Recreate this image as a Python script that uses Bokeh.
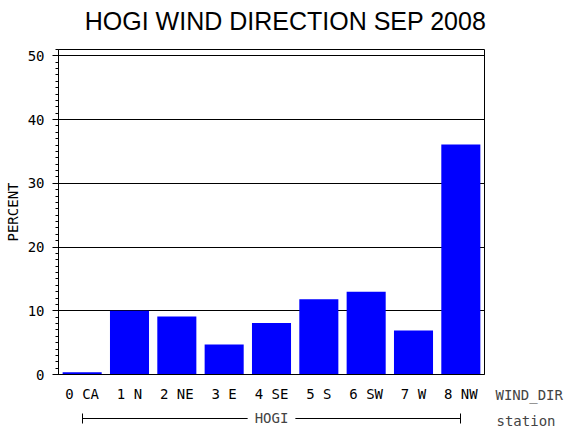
from bokeh.plotting import figure
from bokeh.models import (Range1d, FactorRange, SingleIntervalTicker, FixedTicker, Label,
                          LinearAxis, ColumnDataSource)
from bokeh.embed import file_html
from bokeh.resources import INLINE

categories = ["0 CA", "1 N", "2 NE", "3 E", "4 SE", "5 S", "6 SW", "7 W", "8 NW"]
percent = [0.35, 10.0, 9.1, 4.7, 8.1, 11.8, 13.0, 6.9, 36.1]
y_ticks = [0, 10, 20, 30, 40, 50]
station = "HOGI"
x_var = "WIND_DIR"
group_var = "station"
title_text = "HOGI WIND DIRECTION SEP 2008"

MONO = "DejaVu Sans Mono"
FW, FH = 426, 325
BL, BR, BT, BB = 58, 86, 49, 40

p = figure(frame_width=FW, frame_height=FH, output_backend="svg", toolbar_location=None,
           x_range=FactorRange(factors=categories, range_padding=0),
           y_range=Range1d(0, 51),
           min_border_left=BL, min_border_right=BR, min_border_top=BT, min_border_bottom=BB)
p.title.text = ""

src = ColumnDataSource(dict(x=categories, top=percent))
p.vbar(x="x", top="top", width=0.825, source=src, fill_color="#0000FF", line_color=None)

p.outline_line_color = "black"
p.outline_line_width = 1
p.xgrid.grid_line_color = None
p.ygrid.grid_line_color = "black"
p.ygrid.grid_line_width = 1

yax = p.yaxis[0]
yax.ticker = SingleIntervalTicker(interval=10, num_minor_ticks=10)
yax.axis_label = "PERCENT"
yax.axis_label_text_font = MONO
yax.axis_label_text_font_size = "14px"
yax.axis_label_text_font_style = "normal"
yax.axis_label_text_color = "black"
yax.axis_label_standoff = 4
yax.major_label_text_font = MONO
yax.major_label_text_font_size = "14px"
yax.major_label_text_color = "black"
yax.major_tick_in = 0
yax.major_tick_out = 6
yax.minor_tick_in = 0
yax.minor_tick_out = 3
yax.major_label_standoff = 8
yax.axis_line_color = "black"
yax.major_tick_line_color = "black"
yax.minor_tick_line_color = "black"

xax = p.xaxis[0]
xax.major_tick_line_color = None
xax.minor_tick_line_color = None
xax.major_tick_out = 0
xax.major_tick_in = 0
xax.major_label_text_font = MONO
xax.major_label_text_font_size = "14px"
xax.major_label_text_color = "black"
xax.major_label_standoff = 11
xax.axis_line_color = "black"
xax.axis_label = " "
xax.axis_label_text_font_size = "2px"
xax.axis_label_standoff = 9

# group bracket: axis line bounded to the first and last category centres
ends = [0.5, len(categories) - 0.5]
gax = LinearAxis(ticker=FixedTicker(ticks=ends), bounds=(ends[0], ends[1]))
gax.major_label_overrides = {ends[0]: "", ends[1]: ""}
gax.major_label_text_font_size = "1px"
gax.major_label_standoff = 0
gax.major_tick_in = 5
gax.major_tick_out = 5
gax.minor_tick_line_color = None
gax.axis_line_color = "black"
gax.major_tick_line_color = "black"
p.add_layout(gax, "below")

p.add_layout(Label(x=285, y=20, x_units="canvas", y_units="canvas", text=title_text,
                   text_align="center", text_baseline="alphabetic",
                   text_font="Liberation Sans", text_font_size="25px",
                   text_color="black"), "above")

p.add_layout(Label(x=BL + FW / 2, y=417, x_units="canvas", y_units="canvas", text=station,
                   text_align="center", text_baseline="middle", text_font=MONO,
                   text_font_size="14px", background_fill_color="white",
                   background_fill_alpha=1.0, padding=7), "below")
p.add_layout(Label(x=495, y=394, x_units="canvas", y_units="canvas",
                   text=x_var, text_align="left", text_baseline="middle",
                   text_font=MONO, text_font_size="14px"), "below")
p.add_layout(Label(x=496, y=420, x_units="canvas", y_units="canvas",
                   text=group_var, text_align="left", text_baseline="middle",
                   text_font=MONO, text_font_size="14px"), "below")

open("out.html", "w").write(file_html(p, INLINE))
